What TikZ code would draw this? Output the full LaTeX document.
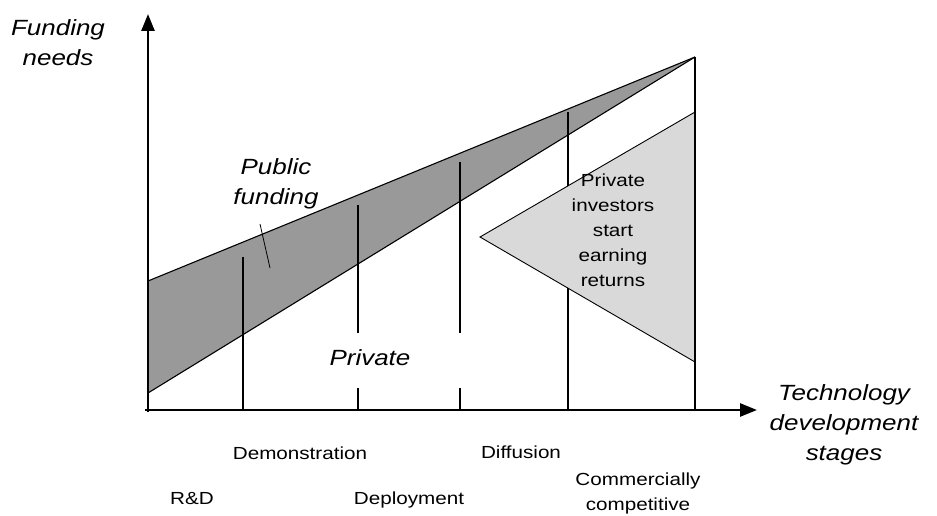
\documentclass[tikz,border=0pt]{standalone}
\usepackage{fontspec}
\setmainfont{Liberation Sans}
\usetikzlibrary{arrows.meta}

\begin{document}
\begin{tikzpicture}[x=1pt,y=-1pt,
    big/.style={font=\fontsize{22}{30}\selectfont\itshape,xscale=1.18,align=center,inner sep=0pt},
    small/.style={font=\fontsize{17.5}{25}\selectfont,xscale=1.18,align=center,inner sep=0pt}]

      \useasboundingbox (0,0) rectangle (937,516);

      \begin{scope}
        \coordinate (o)    at (148,410);
        \coordinate (ytip) at (148,14);
        \coordinate (xtip) at (757,410);
        \coordinate (apex) at (695,57);
        \coordinate (pub)  at (148,281);
        \coordinate (prv)  at (148,393);
        \coordinate (base) at (695,410);
        \coordinate (t1)   at (480,237);
        \coordinate (t2)   at (695,112);
        \coordinate (t3)   at (695,362);
      \end{scope}

      % shaded areas
      \fill[black!40] (pub) -- (apex) -- (prv) -- cycle;
      \draw[line width=1.1pt] (pub) -- (apex);
      \draw[line width=1.1pt] (prv) -- (apex);

      % stage lines
      \foreach \i/\x/\y in {1/243/257,2/358/205,3/460/162,4/568/112} {
        \coordinate (s\i) at (\x,\y);
        \coordinate (e\i) at (\x,410);
        \draw[line width=1.1pt] (s\i) -- (e\i);
      }
      \fill[white] (340,333) rectangle (476,388);

      \draw[fill=black!15,line width=0.9pt] (t1) -- (t2) -- (t3) -- cycle;
      \draw[line width=1.1pt] (apex) -- (base);

      % axes
      \draw[line width=2.6pt,-{Triangle[length=17pt,width=13pt]}] (148,412) -- (ytip);
      \draw[line width=2.6pt,-{Triangle[length=17pt,width=13pt]}] (145,410) -- (xtip);

      \begin{scope}[every node/.style={big}]
        \node (fund) at (58,43)  {Funding\\needs};
        \node (pubf) at (276,184) {Public\\funding};
        \node (priv) at (370,358) {Private};
        \node (tech) at (844,425) {Technology\\development\\stages};
      \end{scope}
      \coordinate (pa) at (260,224);
      \coordinate (pb) at (270,268);
      \draw[line width=0.8pt] (pa) -- (pb);

      \begin{scope}[every node/.style={small}]
        \node (ret)  at (613,230) {Private\\investors\\start\\earning\\returns};
        \node (demo) at (300,453) {Demonstration};
        \node (diff) at (521,452) {Diffusion};
        \node (rd)   at (192,499) {R\&D};
        \node (depl) at (409,500) {Deployment};
        \node (comm) at (638,493) {Commercially\\competitive};
      \end{scope}

    \end{tikzpicture}
\end{document}
